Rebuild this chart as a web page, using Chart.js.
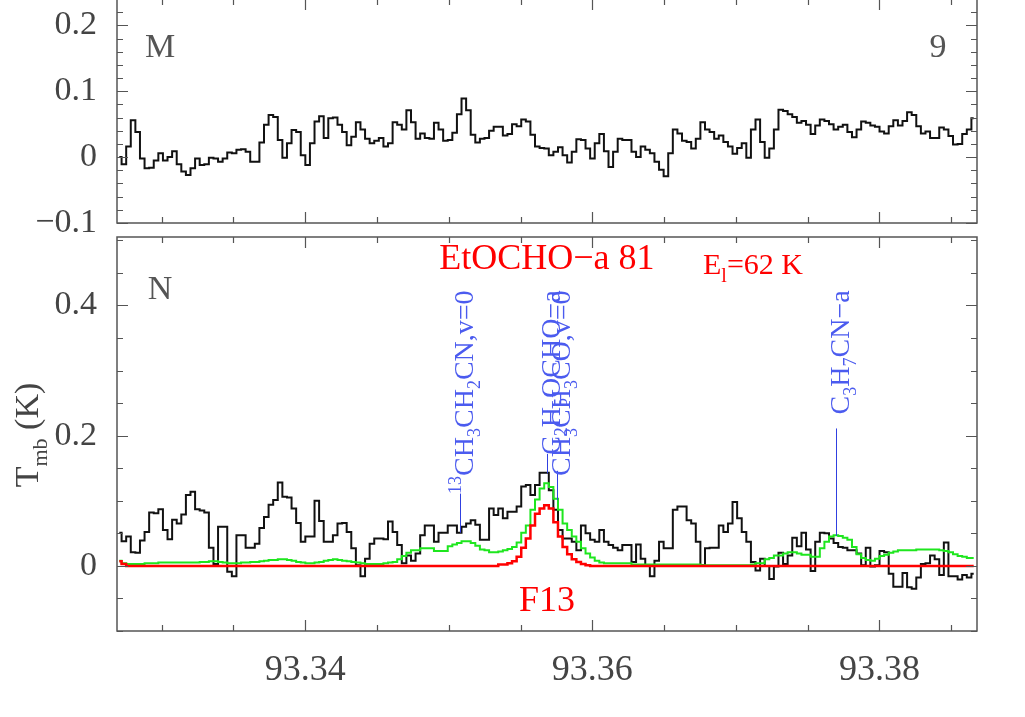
<!DOCTYPE html>
<html>
<head>
<meta charset="utf-8">
<script src="https://cdn.jsdelivr.net/npm/chart.js@4.4.1/dist/chart.umd.min.js"></script>
<style>
  html, body { margin: 0; padding: 0; background: #fff; }
  body { width: 1025px; height: 717px; position: relative; overflow: hidden; }
  canvas { position: absolute; left: 0; }
  #topChart { top: -1px; z-index: 2; }
  #bottomChart { top: 230px; z-index: 1; }
</style>
</head>
<body>
<canvas id="topChart" width="1025" height="244"></canvas>
<canvas id="bottomChart" width="1025" height="487"></canvas>
<script>
// frequency axis (GHz) and channel grid
const freqMin = 93.32689;
const freqMax = 93.3868;
const chanWidth = 0.00032;
const freqTicks = [93.34, 93.36, 93.38];
const topTicks = [-0.1, 0, 0.1, 0.2];
const bottomTicks = [0, 0.2, 0.4];

// panel M (top): observed spectrum, K
const tmbM = [
  0.000,-0.011,0.016,0.056,0.038,-0.002,-0.017,-0.016,-0.005,0.006,
  -0.005,0.000,0.009,-0.011,-0.022,-0.027,-0.017,-0.002,-0.012,-0.011,
  -0.001,-0.002,-0.007,-0.002,0.007,0.006,0.011,0.012,0.008,-0.007,
  -0.007,0.022,0.049,0.064,0.061,0.026,-0.001,0.021,0.041,0.038,
  0.003,-0.012,0.021,0.054,0.062,0.029,0.059,0.060,0.049,0.038,
  0.018,0.031,0.053,0.042,0.028,0.021,0.025,0.029,0.016,0.021,
  0.053,0.049,0.042,0.071,
  0.053,0.028,0.036,0.029,0.028,0.052,0.042,0.025,0.026,0.037,
  0.065,0.089,0.071,0.034,0.022,0.028,0.029,0.040,0.046,0.046,
  0.033,0.035,0.050,0.047,0.057,0.054,0.034,0.016,0.014,0.013,
  0.003,0.008,0.015,0.003,-0.008,0.008,0.027,0.026,0.013,-0.002,
  0.021,0.035,0.009,-0.015,0.008,0.028,0.026,0.026,0.008,0.000,
  0.016,0.011,0.006,-0.007,-0.019,-0.029,0.006,0.042,0.036,0.025,
  0.023,0.013,0.028,
  0.053,0.042,0.038,0.028,0.033,0.023,0.016,0.005,0.014,0.021,
  -0.001,0.042,0.057,0.023,-0.001,0.013,0.042,0.072,0.070,0.065,
  0.061,0.052,0.055,0.049,0.035,0.048,0.057,0.055,0.050,0.042,
  0.046,0.049,0.038,0.030,0.042,0.054,0.052,0.048,0.046,0.039,
  0.036,0.047,0.056,0.048,0.055,0.068,0.064,0.047,0.036,0.039,
  0.029,0.029,0.045,0.042,0.032,0.019,0.020,0.035,0.042,0.059
];

// panel N (bottom): observed spectrum, K
const tmbN = [
  0.051,0.038,0.045,0.021,0.020,0.039,0.052,0.082,0.081,0.087,
  0.055,0.041,0.071,0.065,0.079,0.109,0.114,0.087,0.085,0.082,
  0.028,0.003,0.060,0.060,-0.009,-0.016,0.047,0.047,0.028,0.028,
  0.034,0.058,0.075,0.094,0.101,0.128,0.106,0.105,0.088,0.066,
  0.037,0.045,0.045,0.100,0.069,0.037,0.037,0.047,0.065,0.066,
  0.052,0.027,0.001,-0.016,0.011,0.034,0.042,0.042,0.041,0.068,
  0.052,0.032,0.004,0.016,
  0.008,0.019,0.047,0.062,0.062,0.037,0.051,0.051,0.062,0.062,
  0.051,0.060,0.065,0.070,0.063,0.040,0.040,0.088,0.078,0.088,
  0.073,0.083,0.083,0.091,0.122,0.124,0.109,0.124,0.143,0.143,
  0.116,0.086,0.055,0.042,0.042,0.037,0.024,0.062,0.050,0.040,
  0.037,0.055,0.037,0.032,0.028,0.024,0.032,0.032,0.006,0.033,
  0.011,0.001,-0.016,0.008,0.037,0.027,0.027,0.086,0.091,0.091,
  0.070,0.065,0.037,
  0.001,0.027,0.028,0.028,0.062,0.052,0.065,0.098,0.073,0.052,
  0.037,0.006,-0.007,0.011,0.000,-0.020,-0.001,0.020,0.003,0.016,
  0.043,0.030,0.051,0.025,-0.008,0.037,0.051,0.050,0.042,0.035,
  0.029,0.028,0.024,0.024,0.019,0.001,0.028,-0.001,0.001,0.023,
  0.021,-0.012,-0.032,-0.032,-0.011,-0.033,-0.035,-0.018,0.003,0.004,
  0.016,0.010,-0.014,0.036,-0.016,-0.016,-0.021,-0.014,-0.018,-0.012
];

// full model, all species (green)
const modelAll = [
  0.008,0.004,0.003,0.003,0.003,0.003,0.004,0.004,0.004,0.005,
  0.005,0.005,0.005,0.005,0.005,0.005,0.005,0.005,0.006,0.006,
  0.007,0.007,0.006,0.005,0.004,0.004,0.004,0.005,0.005,0.006,
  0.006,0.007,0.008,0.009,0.009,0.010,0.010,0.009,0.008,0.006,
  0.005,0.004,0.004,0.005,0.006,0.008,0.009,0.010,0.009,0.008,
  0.007,0.006,0.005,0.004,0.003,0.003,0.003,0.003,0.004,0.005,
  0.006,0.010,0.015,0.020,
  0.024,0.024,0.027,0.027,0.027,0.023,0.023,0.023,0.030,0.033,
  0.035,0.038,0.038,0.035,0.031,0.025,0.024,0.021,0.021,0.022,
  0.024,0.026,0.029,0.036,0.051,0.062,0.086,0.102,0.119,0.127,
  0.121,0.103,0.086,0.065,0.055,0.045,0.037,0.027,0.019,0.013,
  0.008,0.005,0.004,0.004,0.004,0.004,0.004,0.004,0.002,0.002,
  0.002,0.002,0.002,0.002,0.002,0.002,0.002,0.002,0.002,0.002,
  0.002,0.002,0.002,
  0.001,0.001,0.001,0.001,0.001,0.001,0.001,0.001,0.001,0.001,
  0.001,0.002,0.004,0.004,0.010,0.012,0.016,0.016,0.019,0.021,
  0.021,0.019,0.017,0.017,0.014,0.014,0.027,0.037,0.045,0.047,
  0.046,0.043,0.040,0.029,0.018,0.012,0.009,0.008,0.011,0.015,
  0.017,0.020,0.022,0.024,0.024,0.024,0.024,0.025,0.025,0.025,
  0.025,0.025,0.024,0.023,0.021,0.018,0.015,0.014,0.012,0.012
];

// EtOCHO-a model alone (red)
const modelEtOCHO = [
  0.007,0.003,0,0,0,0,0,0,0,0,
  0,0,0,0,0,0,0,0,0,0,
  0,0,0,0,0,0,0,0,0,0,
  0,0,0,0,0,0,0,0,0,0,
  0,0,0,0,0,0,0,0,0,0,
  0,0,0,0,0,0,0,0,0,0,
  0,0,0,0,0,0,0,0,0,0,
  0,0,0,0,0,0,0,0,0,0,
  0,0,0,0.002,0.002,0.004,0.007,0.014,0.028,0.042,
  0.062,0.080,0.088,0.093,0.088,0.067,0.045,0.029,0.018,0.010,
  0.006,0.003,0.001,0,0,0,0,0,0,0,
  0,0,0,0,0,0,0,0,0,0,
  0,0,0,0,0,0,0,0,0,0,
  0,0,0,0,0,0,0,0,0,0,
  0,0,0,0,0,0,0,0,0,0,
  0,0,0,0,0,0,0,0,0,0,
  0,0,0,0,0,0,0,0,0,0,
  0,0,0,0,0,0,0,0,0,0,
  0,0,0,0,0,0,0
];

// line identifications (bottom panel)
const lineFreqs = [93.35080, 93.35684, 93.35753, 93.37696];
const lineLow = [0.051, 0.142, 0.101, 0.046];
const lineHigh = [0.111, 0.172, 0.146, 0.211];
const lineNames = [
  [['13', 'sup'], ['CH'], ['3', 'sub'], ['CH'], ['2', 'sub'], ['CN,v=0']],
  [['C'], ['2', 'sub'], ['H'], ['5', 'sub'], ['OCHO\u2212a']],
  [['CH'], ['3', 'sub'], ['CH'], ['3', 'sub'], ['CO,v=0']],
  [['C'], ['3', 'sub'], ['H'], ['7', 'sub'], ['CN\u2212a']]
];
const labelTop = 0.423;

const SERIF = '"Liberation Serif", "DejaVu Serif", serif';

function toXY(vals) {
  return vals.map((v, i) => ({ x: freqMin + (i + 0.5) * chanWidth, y: v }));
}

function fmtTick(v) {
  if (Math.abs(v) < 1e-9) return '0';
  return v.toFixed(1).replace('-', '\u2212');
}

// rich text with sub/superscripts, left aligned at baseline
function richWidth(ctx, segs, size) {
  let w = 0;
  segs.forEach(([t, s]) => {
    ctx.font = (s ? Math.round(size * 0.65) : size) + 'px ' + SERIF;
    w += ctx.measureText(t).width;
  });
  return w;
}
function drawRich(ctx, segs, x, y, size) {
  segs.forEach(([t, s]) => {
    const sz = s ? Math.round(size * 0.65) : size;
    ctx.font = sz + 'px ' + SERIF;
    const dy = s === 'sub' ? size * 0.25 : s === 'sup' ? -size * 0.4 : 0;
    ctx.fillText(t, x, y + dy);
    x += ctx.measureText(t).width;
  });
}

// PGPLOT style box: inward ticks on all four sides + tick labels
const frameTicks = {
  id: 'frameTicks',
  afterDraw(chart, args, o) {
    const { ctx, chartArea: a, scales: { x, y } } = chart;
    ctx.save();
    ctx.strokeStyle = '#555';
    ctx.lineWidth = 1.5;
    ctx.strokeRect(a.left, a.top, a.right - a.left, a.bottom - a.top);
    ctx.lineWidth = 1.2;
    ctx.beginPath();
    const each = (step, lo, hi, fn) => {
      for (let k = Math.ceil(lo / step - 1e-6); k * step <= hi + 1e-9; k++) fn(k * step);
    };
    [[o.xMinor, 6], [o.xMajor, 11]].forEach(([step, len]) => {
      each(step, x.min, x.max, v => {
        const px = Math.round(x.getPixelForValue(v)) + 0.5;
        ctx.moveTo(px, a.bottom); ctx.lineTo(px, a.bottom - len);
        ctx.moveTo(px, a.top); ctx.lineTo(px, a.top + len);
      });
    });
    [[o.yMinor, 6], [o.yMajor, 11]].forEach(([step, len]) => {
      each(step, y.min, y.max, v => {
        const py = Math.round(y.getPixelForValue(v)) + 0.5;
        ctx.moveTo(a.left, py); ctx.lineTo(a.left + len, py);
        ctx.moveTo(a.right, py); ctx.lineTo(a.right - len, py);
      });
    });
    ctx.stroke();

    ctx.fillStyle = '#444';
    ctx.font = '34px ' + SERIF;
    ctx.textAlign = 'right';
    ctx.textBaseline = 'middle';
    o.yLabels.forEach(v => ctx.fillText(fmtTick(v), a.left - 20, y.getPixelForValue(v)));
    if (o.xLabels) {
      ctx.font = '36px ' + SERIF;
      ctx.textAlign = 'center';
      ctx.textBaseline = 'alphabetic';
      o.xLabels.forEach(v => ctx.fillText(v.toFixed(2), x.getPixelForValue(v), a.bottom + 49));
    }
    ctx.restore();
  }
};

const topText = {
  id: 'topText',
  afterDraw(chart) {
    const { ctx, chartArea: a } = chart;
    ctx.save();
    ctx.fillStyle = '#555';
    ctx.font = '34px ' + SERIF;
    ctx.textBaseline = 'middle';
    ctx.textAlign = 'center';
    ctx.fillText('M', a.left + 43, a.top + 49);
    ctx.fillText('9', a.right - 39, a.top + 49);
    ctx.restore();
  }
};

const bottomText = {
  id: 'bottomText',
  afterDraw(chart) {
    const { ctx, chartArea: a, scales: { x, y } } = chart;
    ctx.save();
    ctx.textBaseline = 'middle';
    ctx.textAlign = 'center';
    ctx.fillStyle = '#555';
    ctx.font = '34px ' + SERIF;
    ctx.fillText('N', a.left + 43, a.top + 53);

    ctx.fillStyle = '#ff0000';
    ctx.font = '36px ' + SERIF;
    const xEt = x.getPixelForValue(lineFreqs[1]);
    ctx.fillText('EtOCHO\u2212a 81', xEt, a.top + 23);
    ctx.fillText('F13', xEt, a.top + 365);
    ctx.textAlign = 'left';
    ctx.textBaseline = 'alphabetic';
    drawRich(ctx, [['E'], ['l', 'sub'], ['=62 K']], a.left + 586, a.top + 37, 30);

    // line markers and rotated species names
    ctx.strokeStyle = '#3040e0';
    ctx.lineWidth = 1;
    ctx.fillStyle = '#4b5bef';
    lineFreqs.forEach((f, i) => {
      const px = Math.round(x.getPixelForValue(f)) + 0.5;
      ctx.beginPath();
      ctx.moveTo(px, y.getPixelForValue(lineLow[i]));
      ctx.lineTo(px, y.getPixelForValue(lineHigh[i]));
      ctx.stroke();
      const size = 28;
      const w = richWidth(ctx, lineNames[i], size);
      ctx.save();
      ctx.translate(px + 12, y.getPixelForValue(labelTop) + w);
      ctx.rotate(-Math.PI / 2);
      drawRich(ctx, lineNames[i], 0, 0, size);
      ctx.restore();
    });

    // y axis title
    ctx.fillStyle = '#444';
    const title = [['T'], ['mb', 'sub'], [' (K)']];
    const tw = richWidth(ctx, title, 34);
    ctx.translate(38, 205);
    ctx.rotate(-Math.PI / 2);
    drawRich(ctx, title, -tw / 2, 0, 34);
    ctx.restore();
  }
};

function step(data, color, width) {
  return {
    data: toXY(data),
    borderColor: color,
    borderWidth: width,
    stepped: 'middle',
    pointRadius: 0,
    fill: false
  };
}

function baseOptions(yMin, yMax, pad, ticks) {
  return {
    responsive: false,
    animation: false,
    layout: { padding: pad },
    plugins: {
      legend: { display: false },
      tooltip: { enabled: false },
      frameTicks: ticks
    },
    scales: {
      x: { type: 'linear', min: freqMin, max: freqMax, display: false },
      y: { min: yMin, max: yMax, display: false }
    }
  };
}

// top canvas is 20px taller than its plot box so the -0.1 label is not cut
new Chart(document.getElementById('topChart'), {
  type: 'line',
  data: { datasets: [step(tmbM, '#111', 2)] },
  options: baseOptions(-0.1, 0.24, { left: 117, right: 48, top: 0, bottom: 20 },
    { xMajor: 0.02, xMinor: 0.005, yMajor: 0.1, yMinor: 0.02, yLabels: topTicks }),
  plugins: [frameTicks, topText]
});

new Chart(document.getElementById('bottomChart'), {
  type: 'line',
  data: {
    datasets: [
      step(modelEtOCHO, '#ff0000', 2.5),
      step(modelAll, '#1ee61e', 2),
      step(tmbN, '#111', 2)
    ]
  },
  options: baseOptions(-0.1, 0.505, { left: 117, right: 48, top: 7, bottom: 86 },
    { xMajor: 0.02, xMinor: 0.005, yMajor: 0.2, yMinor: 0.05, yLabels: bottomTicks, xLabels: freqTicks }),
  plugins: [frameTicks, bottomText]
});
</script>
</body>
</html>
